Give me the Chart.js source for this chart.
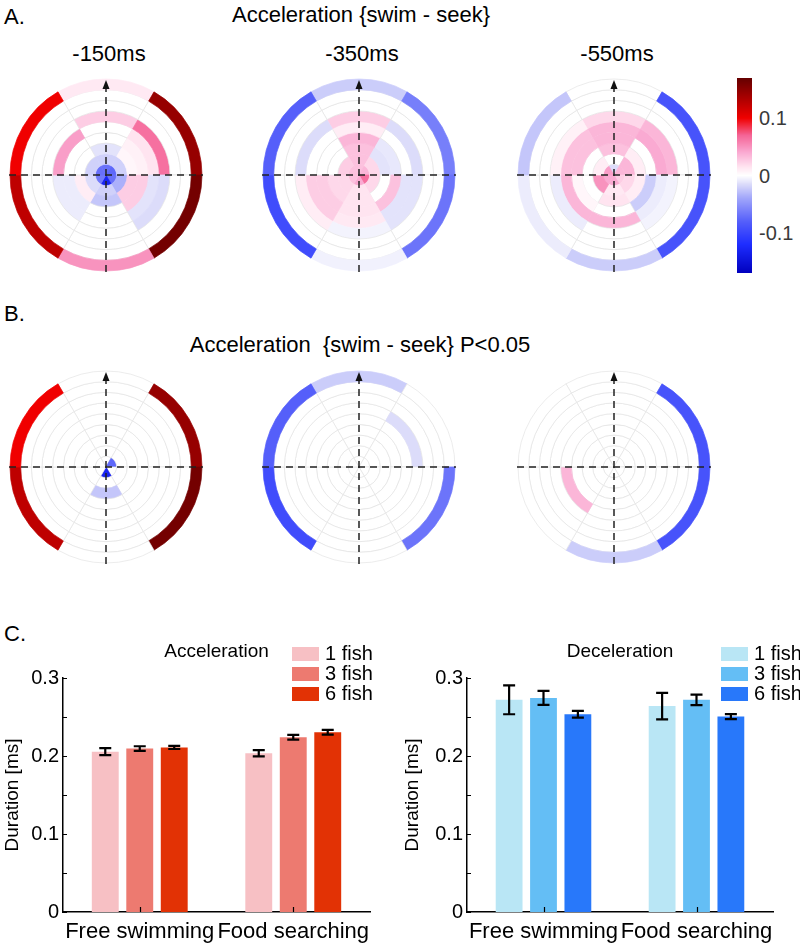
<!DOCTYPE html>
<html>
<head>
<meta charset="utf-8">
<script src="https://cdn.jsdelivr.net/npm/chart.js@4.4.1/dist/chart.umd.min.js"></script>
<style>
  body { margin: 0; width: 800px; height: 945px; overflow: hidden; background: #fff; position: relative;
         font-family: "Liberation Sans", Arial, Helvetica, sans-serif; color: #000; }
  .t { position: absolute; white-space: nowrap; line-height: 1; }
  canvas { position: absolute; }
</style>
</head>
<body>
<div class="t" style="left:4px;top:6px;font-size:22px">A.</div>
<div class="t" style="left:161px;width:400px;text-align:center;top:4px;font-size:22px">Acceleration {swim - seek}</div>
<div class="t" style="left:4px;top:303px;font-size:22px">B.</div>
<div class="t" style="left:160px;width:400px;text-align:center;top:334px;font-size:22px;white-space:pre">Acceleration  {swim - seek} P&lt;0.05</div>
<div class="t" style="left:4px;top:623px;font-size:22px">C.</div>

<canvas id="a1" width="200" height="200" style="left:6px;top:75px"></canvas>
<canvas id="a2" width="200" height="200" style="left:259px;top:75px"></canvas>
<canvas id="a3" width="200" height="200" style="left:514px;top:75px"></canvas>
<canvas id="b1" width="200" height="200" style="left:6px;top:367px"></canvas>
<canvas id="b2" width="200" height="200" style="left:259px;top:367px"></canvas>
<canvas id="b3" width="200" height="200" style="left:514px;top:367px"></canvas>
<canvas id="cbar" width="15" height="195" style="left:737px;top:78px"></canvas>
<canvas id="accChart" width="400" height="345" style="left:0px;top:600px"></canvas>
<canvas id="decChart" width="400" height="345" style="left:400px;top:600px"></canvas>

<script>
// direction bins, clockwise from the arrow (60 deg each)
var sectors = ["0", "60", "120", "180", "240", "300"];
var delays = ["-150ms", "-350ms", "-550ms"];

// acceleration difference {swim - seek}, rings from the centre outwards
var accel150 = [
  [-0.07, -0.075, -0.07, -0.13, -0.065, -0.07],
  [-0.02, -0.02, -0.035, -0.02, -0.015, -0.02],
  [-0.012, 0.005, 0.025, -0.025, 0.01, 0],
  [0, 0.008, 0.025, 0, -0.008, 0],
  [0, 0.015, -0.012, 0, -0.008, 0.045],
  [0.025, 0.065, -0.015, 0, 0, 0],
  [0, 0, 0, 0, 0, 0],
  [0, 0, 0, 0, 0, 0],
  [0.012, 0.145, 0.162, 0.05, 0.125, 0.1]
];
var accel350 = [
  [0.03, 0.035, 0.065, 0.04, 0.03, 0.03],
  [0.03, 0.02, 0.02, 0.015, 0.02, 0.025],
  [0.03, -0.012, 0, 0.015, 0.02, 0],
  [0.035, -0.01, 0.03, 0.015, 0.025, 0],
  [0.01, 0, -0.012, 0.012, 0.025, 0],
  [0.025, -0.015, -0.012, -0.005, 0.01, -0.015],
  [0, 0, 0, 0, 0, 0],
  [0, 0, 0, 0, 0, 0],
  [-0.022, -0.062, -0.068, -0.006, -0.095, -0.08]
];
var accel550 = [
  [-0.015, 0.035, 0.025, 0.04, 0.04, 0.045],
  [0, 0.035, 0.02, 0.012, 0.05, 0.01],
  [0.03, 0.01, 0.01, 0.015, 0, 0],
  [0.035, 0, -0.022, 0, 0.005, 0.03],
  [0.035, 0.04, -0.008, 0.035, 0.035, 0.03],
  [0.02, 0.035, -0.005, 0, -0.008, 0.008],
  [0, 0, 0, 0, 0, 0],
  [0, 0, 0, 0, 0, 0],
  [0, -0.09, -0.09, -0.022, -0.008, -0.025]
];

// [ring, sector] cells with P<0.05
var sig150 = [[9, 1], [9, 2], [9, 4], [9, 5], [1, 1], [1, 3], [3, 3]];
var sig350 = [[9, 0], [9, 2], [9, 4], [9, 5], [6, 1]];
var sig550 = [[9, 1], [9, 2], [9, 3], [5, 4]];

var colorbarTicks = [0.1, 0, -0.1];
var colorMax = 0.17;

// panel C
var barCategories = ["Free swimming", "Food searching"];
var groupLabels = ["1 fish", "3 fish", "6 fish"];
var acc1 = [0.2055, 0.2035];
var acc3 = [0.2095, 0.224];
var acc6 = [0.211, 0.2305];
var accErr1 = [0.0045, 0.004];
var accErr3 = [0.003, 0.003];
var accErr6 = [0.002, 0.003];
var dec1 = [0.272, 0.264];
var dec3 = [0.2745, 0.272];
var dec6 = [0.2535, 0.2505];
var decErr1 = [0.0185, 0.017];
var decErr3 = [0.009, 0.0068];
var decErr6 = [0.0043, 0.0032];
var yTicks = [0, 0.1, 0.2, 0.3];

var accColors = ["#f7c0c4", "#ed7a70", "#e23205"];
var decColors = ["#b9e6f5", "#64bef5", "#2878fa"];

var fontFamily = '"Liberation Sans", Arial, Helvetica, sans-serif';
Chart.defaults.font.family = fontFamily;

// blue - white - red map
var cmapStops = [
  [-0.17, 0, 0, 190], [-0.12, 30, 45, 255], [-0.08, 85, 95, 250], [-0.04, 160, 165, 250],
  [-0.015, 220, 220, 250], [0, 255, 255, 255], [0.015, 255, 228, 240], [0.04, 250, 170, 210],
  [0.07, 245, 100, 150], [0.1, 240, 0, 0], [0.17, 100, 0, 0]
];
function cmap(v) {
  if (v <= cmapStops[0][0]) v = cmapStops[0][0];
  if (v >= cmapStops[cmapStops.length - 1][0]) v = cmapStops[cmapStops.length - 1][0];
  for (var i = 1; i < cmapStops.length; i++) {
    var a = cmapStops[i - 1], b = cmapStops[i];
    if (v <= b[0]) {
      var f = (v - a[0]) / (b[0] - a[0]);
      return "rgb(" + Math.round(a[1] + f * (b[1] - a[1])) + "," + Math.round(a[2] + f * (b[2] - a[2])) + "," + Math.round(a[3] + f * (b[3] - a[3])) + ")";
    }
  }
  return "#fff";
}

var crossPlugin = {
  id: "cross",
  afterDraw: function (chart) {
    var arc = chart.getDatasetMeta(0).data[0];
    var cx = arc.x, cy = arc.y, R = arc.outerRadius;
    var ctx = chart.ctx;
    ctx.save();
    ctx.strokeStyle = "#222";
    ctx.lineWidth = 1.5;
    ctx.setLineDash([7, 5]);
    ctx.beginPath();
    ctx.moveTo(cx - R - 1, cy);
    ctx.lineTo(cx + R + 1, cy);
    ctx.moveTo(cx, cy + R + 1);
    ctx.lineTo(cx, cy - R + 8);
    ctx.stroke();
    ctx.setLineDash([]);
    ctx.fillStyle = "#111";
    ctx.beginPath();
    ctx.moveTo(cx, cy - R + 1);
    ctx.lineTo(cx - 3.5, cy - R + 10);
    ctx.lineTo(cx + 3.5, cy - R + 10);
    ctx.closePath();
    ctx.fill();
    ctx.restore();
  }
};

function isSig(list, ring, sector) {
  for (var i = 0; i < list.length; i++) {
    if (list[i][0] === ring && list[i][1] === sector) return true;
  }
  return false;
}

function polar(id, cells, sig) {
  var datasets = [];
  for (var r = cells.length - 1; r >= 0; r--) {
    var shown = cells[r].map(function (v, s) {
      return sig && !isSig(sig, r + 1, s) ? 0 : v;
    });
    var fills = shown.map(cmap);
    // grid lines only show through the blank cells
    var borders = shown.map(function (v, s) { return Math.abs(v) < 0.004 ? "#e4e4e4" : fills[s]; });
    datasets.push({
      data: sectors.map(function () { return 1; }),
      backgroundColor: fills,
      borderColor: borders,
      borderWidth: 0.7
    });
  }
  new Chart(document.getElementById(id), {
    type: "doughnut",
    data: { labels: sectors, datasets: datasets },
    options: {
      responsive: false,
      animation: false,
      events: [],
      rotation: -30,
      cutout: 0,
      radius: 96,
      plugins: { legend: { display: false }, tooltip: { enabled: false } }
    },
    plugins: [crossPlugin]
  });
}

polar("a1", accel150);
polar("a2", accel350);
polar("a3", accel550);
polar("b1", accel150, sig150);
polar("b2", accel350, sig350);
polar("b3", accel550, sig550);

// delay labels
var centersX = [106, 359, 614];
delays.forEach(function (d, i) {
  var el = document.createElement("div");
  el.className = "t";
  el.style.cssText = "left:" + (centersX[i] - 100 + 3) + "px;width:200px;text-align:center;top:43px;font-size:22px";
  el.textContent = d;
  document.body.appendChild(el);
});

// colour bar
(function () {
  var c = document.getElementById("cbar");
  var ctx = c.getContext("2d");
  for (var y = 0; y < c.height; y++) {
    ctx.fillStyle = cmap(colorMax - (y + 0.5) / c.height * 2 * colorMax);
    ctx.fillRect(0, y, c.width, 1);
  }
  colorbarTicks.forEach(function (v) {
    var el = document.createElement("div");
    el.className = "t";
    var py = 78 + (colorMax - v) / (2 * colorMax) * 195;
    el.style.cssText = "left:759px;top:" + (py + 7 - 17) + "px;font-size:20px;color:#3a3a3a";
    el.textContent = v === 0 ? "0" : String(v);
    document.body.appendChild(el);
  });
})();

var barDecor = {
  id: "barDecor",
  afterDraw: function (chart, args, opts) {
    var ctx = chart.ctx, ys = chart.scales.y, xs = chart.scales.x, area = chart.chartArea;
    ctx.save();
    // error bars
    ctx.strokeStyle = "#000";
    ctx.lineWidth = 2.2;
    chart.data.datasets.forEach(function (ds, i) {
      chart.getDatasetMeta(i).data.forEach(function (bar, j) {
        var top = ys.getPixelForValue(ds.data[j] + ds.err[j]);
        var bot = ys.getPixelForValue(ds.data[j] - ds.err[j]);
        ctx.beginPath();
        ctx.moveTo(bar.x, top); ctx.lineTo(bar.x, bot);
        ctx.moveTo(bar.x - 6, top); ctx.lineTo(bar.x + 6, top);
        ctx.moveTo(bar.x - 6, bot); ctx.lineTo(bar.x + 6, bot);
        ctx.stroke();
      });
    });
    // inward tick marks
    ctx.lineWidth = 1.2;
    ctx.beginPath();
    ys.ticks.forEach(function (t) {
      var py = Math.round(ys.getPixelForValue(t.value)) + 0.5;
      ctx.moveTo(area.left, py); ctx.lineTo(area.left + 4, py);
    });
    xs.ticks.forEach(function (t, i) {
      var px = Math.round(xs.getPixelForTick(i)) + 0.5;
      ctx.moveTo(px, area.bottom); ctx.lineTo(px, area.bottom - 5);
    });
    ctx.stroke();
    // panel title
    ctx.fillStyle = "#000";
    ctx.font = "19px " + fontFamily;
    ctx.textAlign = "center";
    ctx.textBaseline = "alphabetic";
    ctx.fillText(opts.title, (area.left + area.right) / 2, area.top - 21);
    // legend
    ctx.textAlign = "left";
    ctx.textBaseline = "middle";
    ctx.font = "20px " + fontFamily;
    chart.data.datasets.forEach(function (ds, i) {
      var by = area.top - 31 + i * 20;
      ctx.fillStyle = ds.backgroundColor;
      ctx.fillRect(opts.legendX, by, 27, 14);
      ctx.fillStyle = "#000";
      ctx.fillText(ds.label, opts.legendX + 33, by + 7.5);
    });
    ctx.restore();
  }
};

function barChart(id, title, series, errs, colors, axisWidth, padRight, legendX) {
  new Chart(document.getElementById(id), {
    type: "bar",
    data: {
      labels: barCategories,
      datasets: series.map(function (s, i) {
        return {
          label: groupLabels[i], data: s, err: errs[i], backgroundColor: colors[i],
          categoryPercentage: 0.674, barPercentage: 0.78
        };
      })
    },
    options: {
      responsive: false,
      animation: false,
      events: [],
      layout: { padding: { left: 0, right: padRight, top: 78, bottom: 0 } },
      plugins: {
        legend: { display: false },
        tooltip: { enabled: false },
        barDecor: { title: title, legendX: legendX }
      },
      scales: {
        x: {
          z: 1,
          grid: { display: false, drawTicks: false },
          border: { color: "#000", width: 1.5 },
          ticks: { color: "#000", font: { size: 22 }, padding: 7, maxRotation: 0, autoSkip: false },
          afterFit: function (s) { s.height = 33; }
        },
        y: {
          min: 0,
          max: 0.3,
          grid: { display: false, drawTicks: false },
          border: { color: "#000", width: 1.5 },
          ticks: {
            stepSize: 0.05,
            color: "#000",
            font: { size: 20 },
            padding: 4,
            callback: function (v) {
              for (var k = 0; k < yTicks.length; k++) {
                if (Math.abs(v - yTicks[k]) < 1e-6) return String(yTicks[k]);
              }
              return "";
            }
          },
          title: { display: true, text: "Duration [ms]", color: "#000", font: { size: 19 }, padding: { top: 1, bottom: 0 } },
          afterFit: function (s) { s.width = axisWidth; }
        }
      }
    },
    plugins: [barDecor]
  });
}

barChart("accChart", "Acceleration", [acc1, acc3, acc6], [accErr1, accErr3, accErr6], accColors, 63, 30, 292);
barChart("decChart", "Deceleration", [dec1, dec3, dec6], [decErr1, decErr3, decErr6], decColors, 67, 27, 321);
</script>
</body>
</html>
